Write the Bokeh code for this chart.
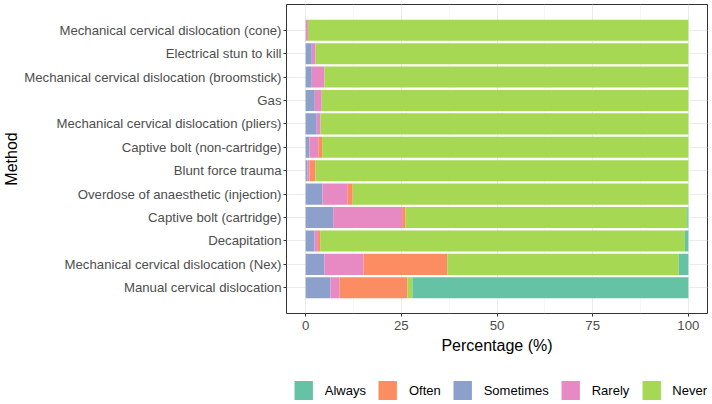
from bokeh.plotting import figure
from bokeh.layouts import column
from bokeh.models import FactorRange, Legend, LegendItem, Range1d, FixedTicker, ColumnDataSource
from bokeh.embed import file_html
from bokeh.resources import INLINE

# bottom-to-top order
methods = [
    "Manual cervical dislocation",
    "Mechanical cervical dislocation (Nex)",
    "Decapitation",
    "Captive bolt (cartridge)",
    "Overdose of anaesthetic (injection)",
    "Blunt force trauma",
    "Captive bolt (non-cartridge)",
    "Mechanical cervical dislocation (pliers)",
    "Gas",
    "Mechanical cervical dislocation (broomstick)",
    "Electrical stun to kill",
    "Mechanical cervical dislocation (cone)",
]
sometimes = [6.5, 4.9, 2.3, 7.2, 4.4, 0.5, 1.0, 2.9, 2.4, 1.6, 1.6, 0.0]
rarely    = [2.4, 10.2, 0.9, 18.0, 6.5, 0.5, 2.3, 1.0, 1.8, 3.3, 1.0, 0.6]
often     = [17.7, 21.9, 0.6, 0.9, 1.4, 1.6, 1.0, 0.0, 0.0, 0.0, 0.0, 0.0]
never     = [1.3, 60.5, 95.3, 73.6, 87.7, 97.4, 95.7, 96.1, 95.8, 95.1, 97.4, 99.4]
always    = [72.1, 2.5, 0.9, 0.3, 0.0, 0.0, 0.0, 0.0, 0.0, 0.0, 0.0, 0.0]

x_ticks = [0, 25, 50, 75, 100]
x_minor = [12.5, 37.5, 62.5, 87.5]

levels = ["Always", "Often", "Sometimes", "Rarely", "Never"]
colors = {"Always": "#66C2A5", "Often": "#FC8D62", "Sometimes": "#8DA0CB",
          "Rarely": "#E78AC3", "Never": "#A6D854"}

source = ColumnDataSource(dict(method=methods, Sometimes=sometimes, Rarely=rarely,
                               Often=often, Never=never, Always=always))

FONT = "Liberation Sans"

p = figure(width=712, height=356, output_backend="svg", toolbar_location=None,
           y_range=FactorRange(factors=methods, range_padding=0.6, range_padding_units="absolute"),
           x_range=Range1d(-5, 105),
           min_border_left=286, min_border_right=5, min_border_top=4, min_border_bottom=0)

stack_order = ["Sometimes", "Rarely", "Often", "Never", "Always"]
rends = p.hbar_stack(stack_order, y="method", height=0.9, source=source,
                     color=[colors[s] for s in stack_order], line_color=None)

p.outline_line_color = "#333333"
p.outline_line_width = 1
p.background_fill_color = "white"

p.xaxis.ticker = FixedTicker(ticks=x_ticks, minor_ticks=x_minor)
p.xgrid.grid_line_color = "#EBEBEB"
p.xgrid.grid_line_width = 1
p.xgrid.minor_grid_line_color = "#F2F2F2"
p.xgrid.minor_grid_line_width = 0.6
p.ygrid.grid_line_color = "#EBEBEB"
p.ygrid.grid_line_width = 1

for ax in (p.xaxis, p.yaxis):
    ax.axis_line_color = None
    ax.major_tick_line_color = "#333333"
    ax.major_tick_in = 0
    ax.major_tick_out = 3
    ax.minor_tick_line_color = None
    ax.major_label_text_font = FONT
    ax.major_label_text_font_size = "13.2px"
    ax.major_label_text_color = "#4D4D4D"
    ax.axis_label_text_font = FONT
    ax.axis_label_text_font_size = "16px"
    ax.axis_label_text_font_style = "normal"
    ax.axis_label_text_color = "black"

p.xaxis.axis_label = "Percentage (%)"
p.yaxis.axis_label = "Method"
p.xaxis.major_label_standoff = 3
p.yaxis.major_label_standoff = 2
p.xaxis.axis_label_standoff = 4
p.yaxis.axis_label_standoff = 1

# legend strip (separate figure); legend proxies sit outside its visible range
leg_src = ColumnDataSource(dict(y=[-5], left=[-5], right=[-4]))
lf = figure(width=712, height=48, output_backend="svg", toolbar_location=None,
            x_axis_type=None, y_axis_type=None, x_range=Range1d(0, 1), y_range=Range1d(0, 1),
            min_border_left=286, min_border_right=5, min_border_top=20, min_border_bottom=0)
lf.outline_line_color = None
lf.xgrid.visible = False
lf.ygrid.visible = False
items = []
for lv in levels:
    r = lf.hbar(y="y", left="left", right="right", height=0.5, source=leg_src,
                fill_color=colors[lv], line_color=None)
    items.append(LegendItem(label=lv, renderers=[r]))

legend = Legend(items=items, orientation="horizontal", location="right",
                glyph_width=23, glyph_height=24, label_standoff=10, spacing=10,
                padding=0, margin=0, border_line_color=None, background_fill_alpha=0,
                label_text_font=FONT, label_text_font_size="13px", label_text_color="black")
lf.add_layout(legend, "center")

layout = column(p, lf, spacing=0)
open("out.html", "w").write(file_html(layout, INLINE))
